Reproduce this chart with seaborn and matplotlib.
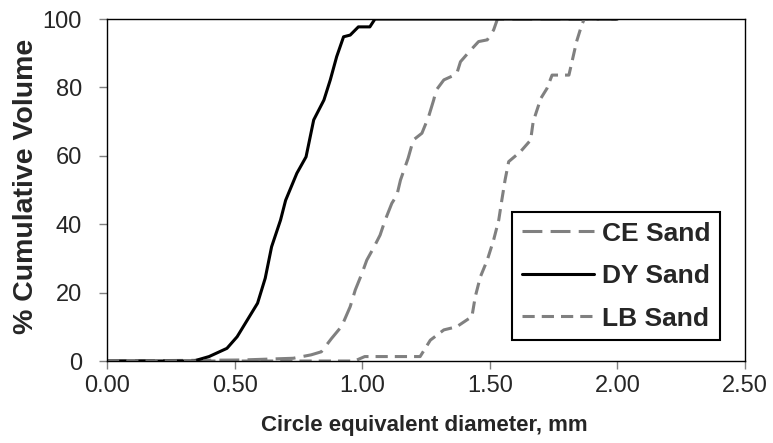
import matplotlib
matplotlib.use('Agg')
import matplotlib.pyplot as plt
import seaborn as sns
import pandas as pd

ce_x = [0.0, 0.53, 0.73, 0.80, 0.84, 0.88, 0.92, 0.953, 0.973, 0.999, 1.018, 1.044, 1.07, 1.09,
        1.116, 1.136, 1.15, 1.18, 1.20, 1.234, 1.26, 1.28, 1.29, 1.32, 1.37, 1.385, 1.42,
        1.456, 1.49, 1.515, 1.53, 2.0]
ce_y = [0.0, 0.3, 0.8, 1.8, 2.7, 6.6, 10.2, 15.9, 20.8, 25.6, 29.5, 33.0, 36.8, 41.2,
        46.1, 48.5, 52.9, 59.3, 64.6, 66.6, 71.4, 76.3, 79.2, 82.2, 83.9, 87.5, 90.5,
        93.4, 93.9, 96.8, 100.0, 100.0]

dy_x = [0.0, 0.34, 0.40, 0.47, 0.51, 0.55, 0.59, 0.62, 0.645, 0.68, 0.70, 0.744, 0.78, 0.81,
        0.85, 0.875, 0.90, 0.927, 0.953, 0.985, 1.03, 1.05, 2.0]
dy_y = [0.0, 0.0, 1.3, 3.7, 7.1, 12.0, 16.9, 24.2, 33.4, 41.2, 47.0, 54.9, 59.7, 70.5,
        76.3, 82.2, 89.0, 94.8, 95.3, 97.7, 97.7, 100.0, 100.0]

lb_x = [0.0, 0.97, 1.01, 1.21, 1.227, 1.267, 1.32, 1.37, 1.43, 1.443, 1.463, 1.49, 1.515,
        1.535, 1.547, 1.56, 1.574, 1.62, 1.66, 1.67, 1.70, 1.724, 1.744, 1.81, 1.822, 1.84,
        1.86, 1.87, 2.0]
lb_y = [0.0, 0.0, 1.3, 1.3, 1.3, 6.1, 9.1, 10.0, 13.0, 18.8, 24.6, 29.5, 35.4,
        41.2, 47.0, 53.0, 58.3, 61.2, 64.6, 70.0, 76.8, 79.7, 83.6, 83.6, 87.5, 93.4,
        98.2, 100.0, 100.0]

df = pd.concat([
    pd.DataFrame({'d': ce_x, 'v': ce_y, 'sand': 'CE Sand'}),
    pd.DataFrame({'d': dy_x, 'v': dy_y, 'sand': 'DY Sand'}),
    pd.DataFrame({'d': lb_x, 'v': lb_y, 'sand': 'LB Sand'}),
], ignore_index=True)

sns.set_style('ticks')
plt.rcParams['font.family'] = ['Liberation Sans', 'DejaVu Sans']

fig, ax = plt.subplots(figsize=(7.73, 4.43), dpi=100)

palette = {'CE Sand': '#808080', 'DY Sand': 'black', 'LB Sand': '#808080'}
dashes = {'CE Sand': (6.5, 2.7), 'DY Sand': '', 'LB Sand': (4, 2.3)}
sns.lineplot(data=df, x='d', y='v', hue='sand', style='sand', palette=palette,
             dashes=dashes, sort=False, estimator=None, linewidth=2.2, ax=ax)

ax.set_xlim(0, 2.5)
ax.set_ylim(0, 100)
ax.set_xticks([0, 0.5, 1.0, 1.5, 2.0, 2.5])
ax.set_xticklabels(['0.00', '0.50', '1.00', '1.50', '2.00', '2.50'])
ax.set_yticks([0, 20, 40, 60, 80, 100])
ax.tick_params(labelsize=17, length=6, width=1, color='#808080', direction='out')
ax.tick_params(axis='x', pad=4)
ax.tick_params(axis='y', pad=12)
for s in ax.spines.values():
    s.set_visible(True)
    s.set_color('black')
    s.set_linewidth(1)

ax.set_xlabel('Circle equivalent diameter, mm', fontsize=16, fontweight='bold')
ax.set_ylabel('% Cumulative Volume', fontsize=20.5, fontweight='bold')
ax.xaxis.set_label_coords(0.498, -0.158)
ax.yaxis.set_label_coords(-0.107, 0.51)

leg = ax.legend(loc='lower right', bbox_to_anchor=(0.961, 0.061), borderaxespad=0,
                prop={'size': 19, 'weight': 'bold'}, handlelength=2.75, fancybox=False,
                edgecolor='black', framealpha=1, labelspacing=0.7, handletextpad=0.3,
                borderpad=0.36)
leg.get_frame().set_linewidth(1.5)

plt.subplots_adjust(left=0.1384, right=0.9638, top=0.9571, bottom=0.1851)
fig.savefig('out.png', dpi=100)
